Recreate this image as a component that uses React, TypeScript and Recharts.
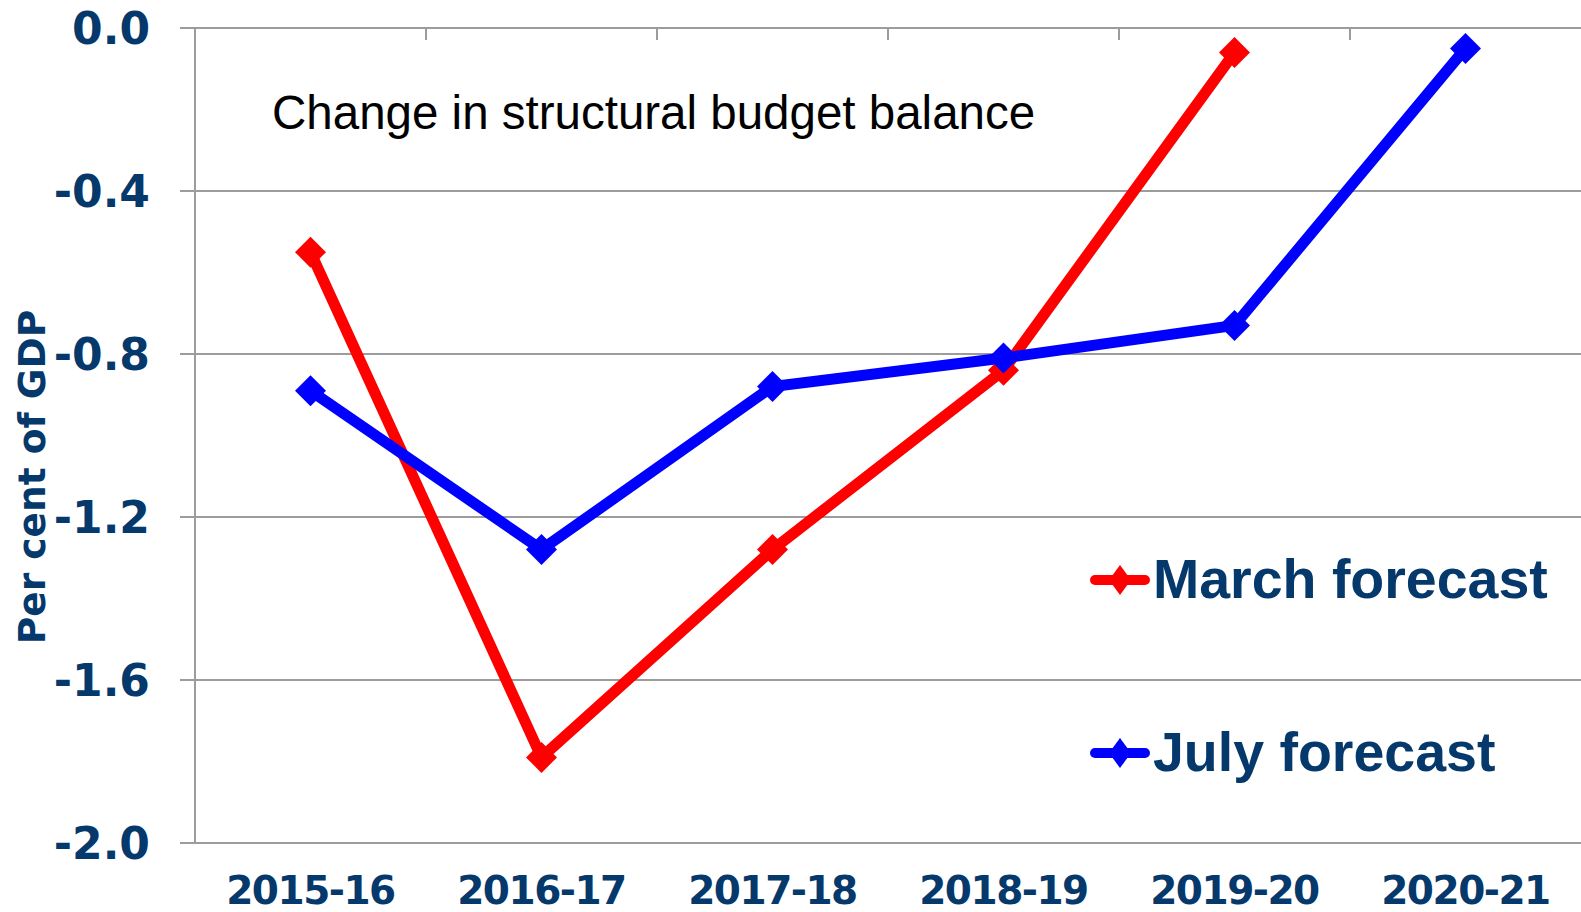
import React from 'react';
import { LineChart, Line, XAxis, YAxis, CartesianGrid, Legend } from 'recharts';

const years = ['2015-16', '2016-17', '2017-18', '2018-19', '2019-20', '2020-21'];
const marchForecast: (number | null)[] = [-0.55, -1.79, -1.28, -0.84, -0.06, null];
const julyForecast: (number | null)[] = [-0.89, -1.28, -0.88, -0.81, -0.73, -0.05];
const yTicks = [0, -0.4, -0.8, -1.2, -1.6, -2.0];
const boundaryTicks = [0.5, 1.5, 2.5, 3.5, 4.5];
const seriesNames = ['March forecast', 'July forecast'];
const chartTitle = 'Change in structural budget balance';
const yTitle = 'Per cent of GDP';

const data = years.map((year, i) => ({ year, pos: i, march: marchForecast[i], july: julyForecast[i] }));

const NAVY = '#05386b';
const GRID = '#9c9c9c';

const Diamond = (props: any) => {
  const { cx, cy, stroke, payload, dataKey, index } = props;
  if (cx == null || cy == null || payload == null || payload[dataKey] == null) return null;
  const r = 15.5;
  return (
    <polygon
      key={`d-${dataKey}-${index}`}
      points={`${cx},${cy - r} ${cx + r},${cy} ${cx},${cy + r} ${cx - r},${cy}`}
      fill={stroke}
    />
  );
};

const EmptyTick = () => <g />;

const renderLegend = (props: any) => {
  const payload = [...(props.payload || [])].sort(
    (a: any, b: any) => seriesNames.indexOf(a.value) - seriesNames.indexOf(b.value)
  );
  return (
    <div>
      {payload.map((entry: any, i: number) => (
        <div
          key={entry.value}
          style={{ display: 'flex', alignItems: 'center', height: 60, marginBottom: i === 0 ? 113 : 0 }}
        >
          <svg width={66} height={32} style={{ display: 'block' }}>
            <line x1={10} y1={16} x2={60} y2={16} stroke={entry.color} strokeWidth={10} strokeLinecap="round" />
            <polygon points="35,1 46,16 35,31 24,16" fill={entry.color} />
          </svg>
          <span
            style={{
              marginLeft: 2,
              fontFamily: '"Liberation Sans", Arial, sans-serif',
              fontWeight: 700,
              fontSize: 55.5,
              lineHeight: 1,
              color: NAVY,
              whiteSpace: 'nowrap',
            }}
          >
            {entry.value}
          </span>
        </div>
      ))}
    </div>
  );
};

export default function App() {
  return (
    <div style={{ position: 'absolute', left: 0, top: 0, width: 1581, height: 912, background: '#fff' }}>
      <LineChart width={1581} height={912} data={data} margin={{ top: 28, right: 0, bottom: 0, left: 0 }}>
        <CartesianGrid vertical={false} stroke={GRID} strokeWidth={2} />
        <XAxis
          dataKey="year"
          type="category"
          height={69}
          padding={{ left: 115.5, right: 115.5 }}
          axisLine={false}
          tickLine={false}
          tickSize={0}
          tickMargin={33}
          interval={0}
          tick={{ fill: NAVY, fontSize: 39, fontWeight: 700, fontFamily: '"DejaVu Sans", sans-serif', letterSpacing: -1.5 }}
        />
        <XAxis
          xAxisId="top"
          dataKey="pos"
          orientation="top"
          type="number"
          domain={[-0.5, 5.5]}
          ticks={boundaryTicks}
          allowDataOverflow
          mirror
          height={12}
          tick={<EmptyTick />}
          tickSize={12}
          tickLine={{ stroke: GRID, strokeWidth: 2 }}
          axisLine={{ stroke: GRID, strokeWidth: 2 }}
        />
        <YAxis
          width={195}
          domain={[-2, 0]}
          ticks={yTicks}
          interval={0}
          tickFormatter={(v: number) => v.toFixed(1)}
          tickSize={15}
          tickMargin={30}
          tickLine={{ stroke: GRID, strokeWidth: 2 }}
          axisLine={{ stroke: GRID, strokeWidth: 2 }}
          tick={{ fill: NAVY, fontSize: 44, fontWeight: 700, fontFamily: '"DejaVu Sans", sans-serif' }}
        />
        <Legend
          layout="horizontal"
          verticalAlign="middle"
          align="center"
          content={renderLegend}
          wrapperStyle={{ position: 'absolute', left: 1085, top: 550, width: 496 }}
        />
        <Line
          name={seriesNames[0]}
          dataKey="march"
          stroke="#ff0000"
          strokeWidth={11}
          dot={<Diamond />}
          activeDot={false}
          isAnimationActive={false}
        />
        <Line
          name={seriesNames[1]}
          dataKey="july"
          stroke="#0000ff"
          strokeWidth={11}
          dot={<Diamond />}
          activeDot={false}
          isAnimationActive={false}
        />
      </LineChart>
      <svg
        width={1581}
        height={912}
        style={{ position: 'absolute', left: 0, top: 0, pointerEvents: 'none' }}
      >
        <text
          x={272}
          y={129}
          fontFamily='"Liberation Sans", Arial, sans-serif'
          fontSize={47.5}
          fill="#000"
        >
          {chartTitle}
        </text>
        <text
          x={45}
          y={477}
          transform="rotate(-90, 45, 477)"
          textAnchor="middle"
          fontFamily='"DejaVu Sans", sans-serif'
          fontWeight={700}
          fontSize={37.5}
          fill={NAVY}
        >
          {yTitle}
        </text>
      </svg>
    </div>
  );
}
